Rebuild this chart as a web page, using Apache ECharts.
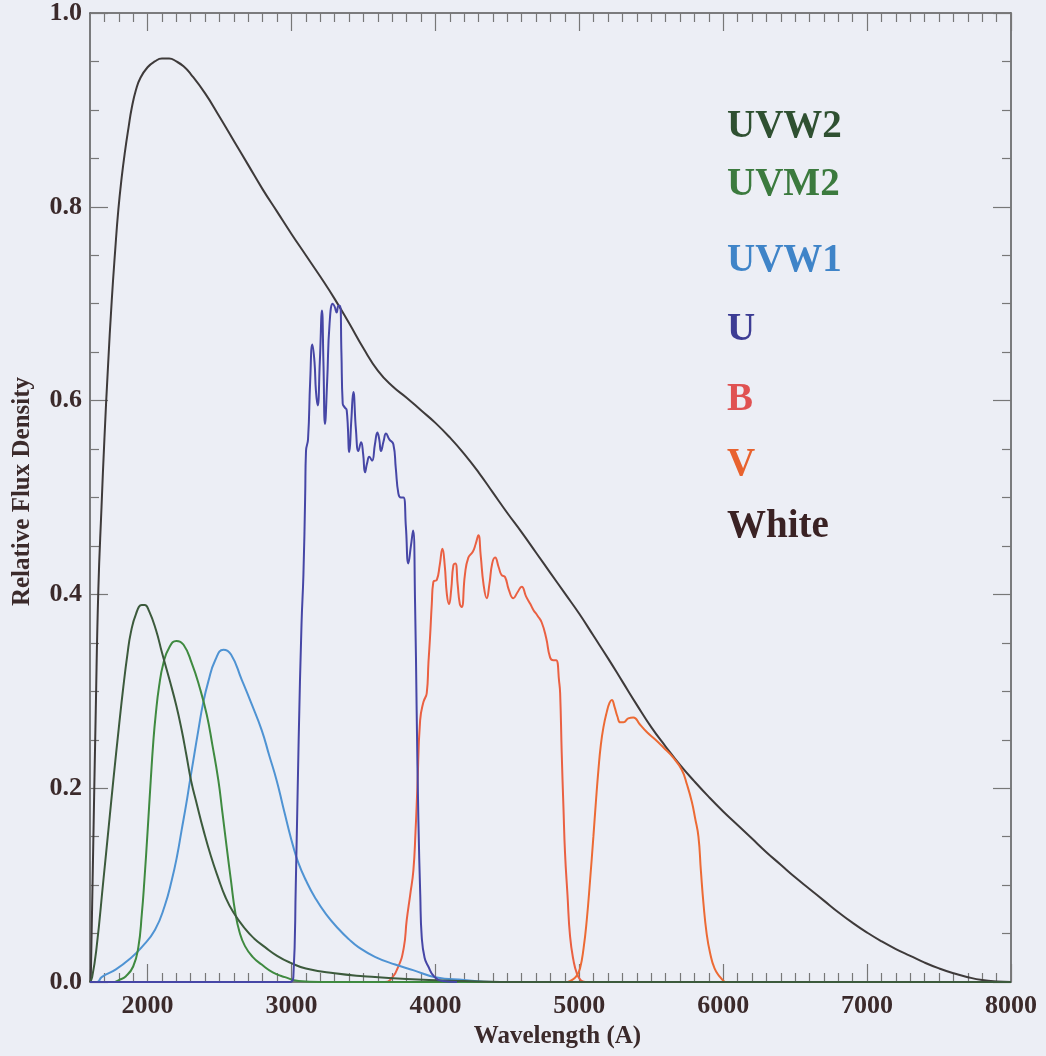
<!DOCTYPE html>
<html>
<head>
<meta charset="utf-8">
<script src="https://cdn.jsdelivr.net/npm/echarts@6/dist/echarts.min.js"></script>
<style>
html,body{margin:0;padding:0;background:#eceef5;}
#chart{width:1046px;height:1056px;}
</style>
</head>
<body>
<div id="chart"></div>
<script>
// ---- Data (wavelength in Angstrom, relative flux density) ----
const xMajorTicks = [2000, 3000, 4000, 5000, 6000, 7000, 8000];
const xMinorTicks = [];
for (let w = 1700; w < 8000; w += 100) { if (w % 1000 !== 0) xMinorTicks.push(w); }
const yTickLabels = ['0.0', '0.2', '0.4', '0.6', '0.8', '1.0'];

const whiteCurve = [[1605,0],[1620,0.12],[1640,0.28],[1658,0.405],[1680,0.49],[1700,0.56],[1725,0.635],[1751,0.703],[1775,0.755],[1797,0.797],[1820,0.830],[1843,0.857],[1868,0.882],[1890,0.902],[1920,0.921],[1950,0.933],[2000,0.944],[2050,0.950],[2100,0.953],[2150,0.953],[2200,0.950],[2250,0.945],[2300,0.937],[2400,0.917],[2500,0.893],[2600,0.868],[2700,0.843],[2800,0.818],[2900,0.795],[3000,0.772],[3100,0.750],[3200,0.728],[3300,0.705],[3400,0.680],[3500,0.654],[3600,0.631],[3700,0.615],[3800,0.603],[3900,0.590],[4000,0.577],[4100,0.562],[4200,0.545],[4300,0.526],[4400,0.505],[4500,0.484],[4600,0.464],[4700,0.443],[4800,0.422],[4900,0.401],[5000,0.380],[5100,0.357],[5200,0.334],[5300,0.310],[5400,0.286],[5500,0.263],[5600,0.243],[5700,0.224],[5800,0.207],[5900,0.191],[6000,0.176],[6100,0.162],[6200,0.148],[6300,0.134],[6400,0.121],[6500,0.108],[6600,0.096],[6700,0.084],[6800,0.072],[6900,0.061],[7000,0.051],[7100,0.042],[7200,0.034],[7300,0.027],[7400,0.020],[7500,0.014],[7600,0.009],[7700,0.005],[7800,0.002],[7900,0.0005],[8000,0]];

const uvw2Curve = [[1600,0],[1615,0.005],[1646,0.036],[1693,0.105],[1730,0.16],[1762,0.208],[1800,0.262],[1832,0.305],[1860,0.338],[1883,0.360],[1920,0.380],[1960,0.389],[1980,0.389],[2010,0.383],[2059,0.363],[2100,0.340],[2156,0.310],[2200,0.285],[2237,0.260],[2270,0.234],[2302,0.208],[2345,0.182],[2388,0.157],[2440,0.130],[2492,0.107],[2540,0.088],[2596,0.072],[2677,0.055],[2740,0.045],[2816,0.036],[2900,0.027],[2990,0.020],[3100,0.014],[3300,0.009],[3500,0.006],[3800,0.003],[4200,0.001],[4600,0],[8000,0]];

const uvm2Curve = [[1600,0],[1760,0],[1800,0.002],[1850,0.006],[1900,0.016],[1936,0.036],[1960,0.07],[1978,0.105],[2000,0.155],[2022,0.208],[2040,0.248],[2056,0.275],[2080,0.305],[2110,0.329],[2150,0.345],[2200,0.352],[2250,0.348],[2307,0.329],[2360,0.305],[2411,0.276],[2450,0.245],[2492,0.208],[2520,0.175],[2550,0.139],[2580,0.104],[2608,0.073],[2640,0.051],[2677,0.037],[2730,0.026],[2793,0.018],[2870,0.010],[2955,0.005],[3050,0.001],[3200,0],[8000,0]];

const uvw1Curve = [[1600,0],[1650,0],[1681,0.005],[1780,0.013],[1878,0.024],[1960,0.036],[2052,0.054],[2120,0.079],[2168,0.105],[2205,0.130],[2237,0.157],[2268,0.183],[2295,0.208],[2325,0.235],[2353,0.260],[2385,0.287],[2422,0.310],[2470,0.332],[2527,0.343],[2580,0.338],[2654,0.312],[2720,0.288],[2793,0.260],[2845,0.234],[2897,0.208],[2940,0.182],[2978,0.159],[3010,0.141],[3048,0.123],[3100,0.105],[3164,0.087],[3240,0.070],[3326,0.055],[3400,0.044],[3465,0.036],[3580,0.026],[3720,0.018],[3850,0.012],[4000,0.005],[4200,0.002],[4400,0],[8000,0]];

const uCurve = [[1600,0],[2990,0],[3013,0.005],[3030,0.10],[3050,0.25],[3070,0.37],[3083,0.42],[3095,0.50],[3101,0.548],[3115,0.56],[3130,0.62],[3145,0.658],[3160,0.64],[3170,0.61],[3182,0.595],[3197,0.64],[3212,0.693],[3222,0.64],[3233,0.576],[3248,0.62],[3265,0.68],[3287,0.700],[3300,0.697],[3314,0.691],[3327,0.698],[3337,0.698],[3347,0.65],[3356,0.597],[3370,0.593],[3384,0.590],[3402,0.547],[3416,0.58],[3430,0.609],[3448,0.57],[3465,0.548],[3484,0.557],[3498,0.545],[3511,0.526],[3525,0.535],[3541,0.542],[3560,0.538],[3580,0.555],[3597,0.567],[3610,0.56],[3622,0.548],[3640,0.558],[3657,0.566],[3680,0.56],[3708,0.555],[3725,0.53],[3743,0.504],[3760,0.50],[3778,0.50],[3795,0.47],[3812,0.432],[3830,0.45],[3845,0.466],[3859,0.39],[3870,0.28],[3882,0.167],[3895,0.09],[3905,0.047],[3925,0.025],[3951,0.016],[3990,0.006],[4050,0.001],[4150,0]];

const bCurve = [[3650,0],[3685,0.002],[3740,0.015],[3780,0.035],[3801,0.064],[3825,0.09],[3847,0.115],[3862,0.155],[3875,0.201],[3894,0.27],[3917,0.289],[3940,0.298],[3952,0.33],[3963,0.356],[3975,0.39],[3986,0.413],[4010,0.415],[4030,0.43],[4049,0.447],[4065,0.43],[4080,0.40],[4095,0.39],[4110,0.405],[4125,0.43],[4139,0.432],[4155,0.41],[4170,0.39],[4183,0.387],[4205,0.42],[4229,0.438],[4260,0.444],[4280,0.452],[4299,0.461],[4315,0.44],[4335,0.41],[4357,0.396],[4375,0.41],[4395,0.432],[4415,0.438],[4440,0.428],[4460,0.42],[4484,0.418],[4510,0.405],[4542,0.396],[4570,0.402],[4600,0.408],[4630,0.398],[4660,0.39],[4681,0.384],[4710,0.378],[4739,0.371],[4770,0.355],[4797,0.335],[4820,0.332],[4839,0.332],[4860,0.31],[4867,0.298],[4878,0.236],[4890,0.18],[4901,0.133],[4918,0.09],[4936,0.047],[4960,0.022],[4983,0.009],[5010,0.002],[5040,0]];

const vCurve = [[4920,0],[4948,0.002],[4980,0.006],[5005,0.014],[5030,0.035],[5052,0.064],[5075,0.105],[5098,0.15],[5115,0.185],[5133,0.219],[5150,0.245],[5168,0.263],[5190,0.278],[5210,0.288],[5226,0.291],[5245,0.284],[5265,0.274],[5285,0.268],[5307,0.268],[5340,0.272],[5376,0.273],[5420,0.266],[5469,0.258],[5530,0.250],[5585,0.242],[5650,0.232],[5712,0.219],[5750,0.203],[5782,0.186],[5805,0.169],[5828,0.15],[5845,0.115],[5863,0.081],[5885,0.05],[5909,0.03],[5940,0.014],[5979,0.005],[6010,0]];

const seriesNames = ['UVW2', 'UVM2', 'UVW1', 'U', 'B', 'V', 'White'];
const seriesData = [uvw2Curve, uvm2Curve, uvw1Curve, uCurve, bCurve, vCurve, whiteCurve];
const lineColors = ['#3c5a3c', '#3f8a40', '#4f93d3', '#4646a6', '#ea6042', '#ec6a34', '#3e3a3a'];
const labelColors = ['#2f5031', '#3b7a3e', '#3f84c8', '#3c3c94', '#e05252', '#e8622e', '#3a2224'];
// legend label vertical positions (layout only)
const labelYs = [127, 185, 261, 330, 400, 465, 527];

// ---- Chart ----
const chart = echarts.init(document.getElementById('chart'), null, {renderer: 'canvas'});
const FONT = '"Liberation Serif", "Times New Roman", serif';
const TXT = '#3b2a2b';
const AX = '#555555';
const TK = '#777777';

function xAx(pos, ticks, len, line, labels) {
  return {
    type: 'value', min: 1600, max: 8000, position: pos,
    axisLine: {show: line, onZero: false, lineStyle: {color: AX, width: 1.5}},
    axisTick: {show: true, inside: true, length: len, customValues: ticks, lineStyle: {color: TK, width: 1.2}},
    axisLabel: labels ? {show: true, customValues: ticks, margin: 11, fontFamily: FONT, fontWeight: 'bold', fontSize: 26, color: TXT,
      formatter: v => String(Math.round(v))} : {show: false},
    splitLine: {show: false}
  };
}

const xAxes = [
  xAx('bottom', xMajorTicks, 18, true, true),
  xAx('bottom', xMinorTicks, 9, false, false),
  xAx('top', xMajorTicks, 18, true, false),
  xAx('top', xMinorTicks, 9, false, false)
];
Object.assign(xAxes[0], {
  name: 'Wavelength (A)', nameLocation: 'middle', nameGap: 40,
  nameTextStyle: {fontFamily: FONT, fontWeight: 'bold', fontSize: 25, color: TXT, padding: [0, 0, 0, 14]}
});

function yAx(pos, labels) {
  return {
    type: 'value', min: 0, max: 1, interval: 0.2, position: pos,
    axisLine: {show: true, onZero: false, lineStyle: {color: AX, width: 1.5}},
    axisTick: {show: true, inside: true, length: 18, lineStyle: {color: TK, width: 1.2}},
    minorTick: {show: true, splitNumber: 4, length: 9, lineStyle: {color: TK, width: 1.2}},
    axisLabel: labels ? {show: true, margin: 8, fontFamily: FONT, fontWeight: 'bold', fontSize: 26, color: TXT,
      formatter: v => yTickLabels[Math.round(v / 0.2)]} : {show: false},
    splitLine: {show: false}, minorSplitLine: {show: false}
  };
}
const yAxes = [yAx('left', true), yAx('right', false)];
Object.assign(yAxes[0], {
  name: 'Relative Flux Density', nameLocation: 'middle', nameGap: 55, nameRotate: 90,
  nameTextStyle: {fontFamily: FONT, fontWeight: 'bold', fontSize: 25, color: TXT, padding: [0, 0, 0, 12]}
});

const drawOrder = [6, 4, 5, 2, 1, 0, 3];
const series = drawOrder.map(i => ({
  name: seriesNames[i], type: 'line', data: seriesData[i], xAxisIndex: 0, yAxisIndex: 0,
  showSymbol: false, symbol: 'none', smooth: 0.5,
  lineStyle: {color: lineColors[i], width: 2}, itemStyle: {color: lineColors[i]},
  emphasis: {disabled: true}, silent: true
}));

const graphics = seriesNames.map((n, i) => ({
  type: 'text', left: 727, top: labelYs[i] - 20,
  style: {text: n, fill: labelColors[i], font: 'bold 39px ' + FONT, textVerticalAlign: 'top'}
}));

chart.setOption({
  backgroundColor: '#eceef5',
  animation: false,
  grid: {left: 90, right: 35, top: 13, bottom: 74, containLabel: false},
  xAxis: xAxes,
  yAxis: yAxes,
  series: series,
  graphic: graphics
});
</script>
</body>
</html>
